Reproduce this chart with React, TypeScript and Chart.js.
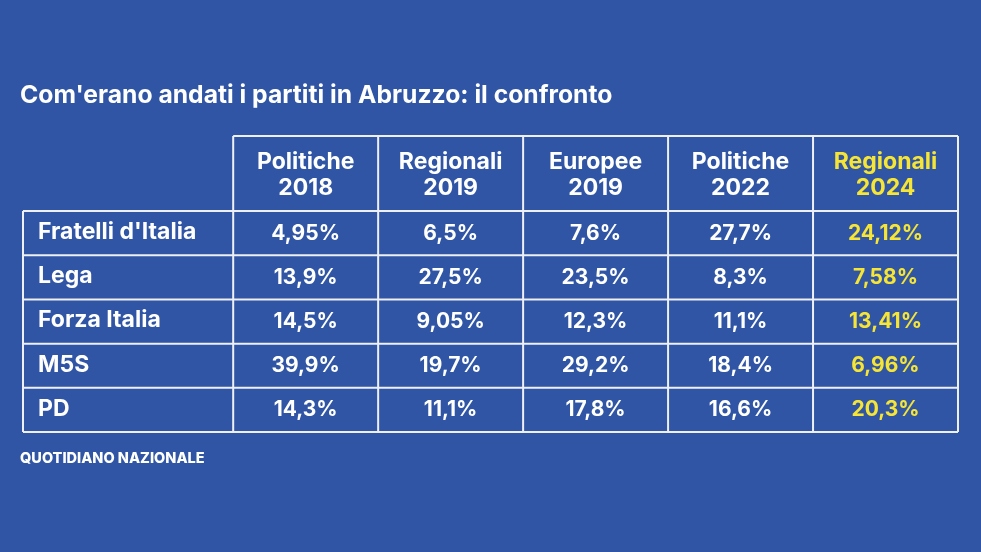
import React, { useEffect, useRef } from "react";
import { Chart, registerables } from "chart.js";

Chart.register(...registerables);

const titleText = "Com'erano andati i partiti in Abruzzo: il confronto";
const sourceText = "QUOTIDIANO NAZIONALE";

const parties = ["Fratelli d'Italia", "Lega", "Forza Italia", "M5S", "PD"];
const electionNames = ["Politiche", "Regionali", "Europee", "Politiche", "Regionali"];
const electionYears = ["2018", "2019", "2019", "2022", "2024"];

const politiche2018 = [4.95, 13.9, 14.5, 39.9, 14.3];
const regionali2019 = [6.5, 27.5, 9.05, 19.7, 11.1];
const europee2019 = [7.6, 23.5, 12.3, 29.2, 17.8];
const politiche2022 = [27.7, 8.3, 11.1, 18.4, 16.6];
const regionali2024 = [24.12, 7.58, 13.41, 6.96, 20.3];

const series = [politiche2018, regionali2019, europee2019, politiche2022, regionali2024];

const BG = "#2f55a4";
const WHITE = "#ffffff";
const YELLOW = "#f6e535";
const LINE = "#eef0f6";
const FONT = "Inter";

// table geometry in scale units
const NAME_W = 1.45;
const HEAD_H = 1.7;
const X_MAX = NAME_W + series.length;
const Y_MAX = HEAD_H + parties.length;

const fmt = (v: number) => String(v).replace(".", ",") + "%";

const tablePlugin = {
  id: "tablePlugin",
  afterDatasetsDraw(chart: any) {
    const { ctx, scales } = chart;
    const xs = scales.x;
    const ys = scales.y;
    const px = (v: number) => xs.getPixelForValue(v);
    const py = (v: number) => ys.getPixelForValue(v);
    ctx.save();
    // title & source
    ctx.fillStyle = WHITE;
    ctx.textAlign = "left";
    ctx.textBaseline = "alphabetic";
    ctx.font = `700 24.7px ${FONT}`;
    ctx.fillText(titleText, 20, 103);
    ctx.font = `800 14.5px ${FONT}`;
    ctx.fillText(sourceText, 20, 463);

    // grid lines
    ctx.strokeStyle = LINE;
    ctx.lineWidth = 2;
    const line = (x1: number, y1: number, x2: number, y2: number) => {
      ctx.beginPath();
      ctx.moveTo(px(x1), py(y1));
      ctx.lineTo(px(x2), py(y2));
      ctx.stroke();
    };
    line(NAME_W, 0, X_MAX, 0);
    for (let i = 0; i <= parties.length; i++) line(0, HEAD_H + i, X_MAX, HEAD_H + i);
    line(0, HEAD_H, 0, Y_MAX);
    for (let j = 0; j <= series.length; j++) line(NAME_W + j, 0, NAME_W + j, Y_MAX);

    // headers
    ctx.textAlign = "center";
    ctx.textBaseline = "alphabetic";
    ctx.font = `700 23px ${FONT}`;
    series.forEach((_, j) => {
      const cx = px(NAME_W + j + 0.5);
      const cy = py(HEAD_H / 2);
      ctx.fillStyle = j === series.length - 1 ? YELLOW : WHITE;
      ctx.fillText(electionNames[j], cx, cy - 4.5);
      ctx.fillText(electionYears[j], cx, cy + 21.5);
    });

    // party names
    ctx.textAlign = "left";
    ctx.textBaseline = "middle";
    ctx.fillStyle = WHITE;
    ctx.font = `700 23px ${FONT}`;
    parties.forEach((p, i) => {
      ctx.fillText(p, px(0) + 15, py(HEAD_H + i + 0.5) - 1);
    });

    // values at dataset point positions
    ctx.textAlign = "center";
    ctx.font = `700 21px ${FONT}`;
    chart.data.datasets.forEach((ds: any, j: number) => {
      const meta = chart.getDatasetMeta(j);
      ctx.fillStyle = j === series.length - 1 ? YELLOW : WHITE;
      meta.data.forEach((pt: any, i: number) => {
        ctx.fillText(fmt(series[j][i]), pt.x, pt.y);
      });
    });
    ctx.restore();
  },
};

export default function App() {
  const ref = useRef<HTMLCanvasElement>(null);
  useEffect(() => {
    if (!ref.current) return;
    const chart = new Chart(ref.current, {
      type: "scatter",
      data: {
        datasets: series.map((vals, j) => ({
          label: electionNames[j] + " " + electionYears[j],
          data: vals.map((_, i) => ({ x: NAME_W + j + 0.5, y: HEAD_H + i + 0.5 })),
          pointRadius: 0,
          pointHoverRadius: 0,
        })),
      },
      options: {
        responsive: false,
        animation: false,
        layout: { padding: { left: 23, right: 23, top: 136, bottom: 120 } },
        plugins: { legend: { display: false }, tooltip: { enabled: false }, title: { display: false } },
        scales: {
          x: { type: "linear", min: 0, max: X_MAX, display: false },
          y: { type: "linear", min: 0, max: Y_MAX, reverse: true, display: false },
        },
      },
      plugins: [tablePlugin],
    });
    return () => chart.destroy();
  }, []);
  return (
    <div style={{ position: "fixed", left: 0, top: 0, width: 981, height: 552, background: BG }}>
      <canvas ref={ref} width={981} height={552} />
    </div>
  );
}
